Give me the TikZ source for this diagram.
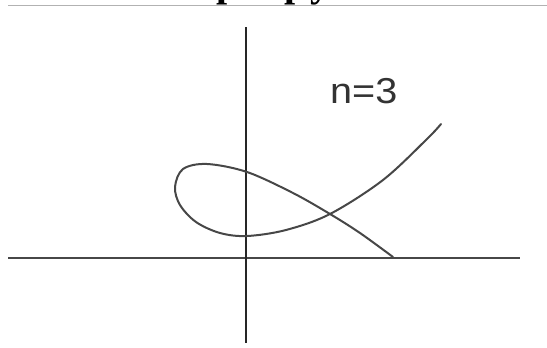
\documentclass[tikz,border=0pt]{standalone}
\usepackage{fontspec}
\setmainfont{Liberation Serif}
\newfontfamily\labfont{Liberation Sans}
\begin{document}
\begin{tikzpicture}[x=1pt,y=-1pt,
  axis/.style={line width=2pt,draw=black!85},
  haxis/.style={line width=2.6pt,draw=black!72},
  curve/.style={line width=2pt,draw=black!72,line cap=round,line join=round}]
\useasboundingbox (0,0) rectangle (547,348);
% cut-off title at the top
\begin{scope}
\clip (0,0) rectangle (547,5);
\node[anchor=base,inner sep=0pt,font=\bfseries\fontsize{40}{44}\selectfont] (p1) at (228,-4) {p};
\node[anchor=base,inner sep=0pt,font=\bfseries\fontsize{40}{44}\selectfont] (p2) at (296,-4) {p};
\node[anchor=base,inner sep=0pt,font=\bfseries\fontsize{40}{44}\selectfont] (y1) at (320,-4) {y};
\end{scope}
\draw[black!30,line width=0.8pt] (8,5) -- (547,5);
% axes
\draw[haxis] (8,258) -- (520,258);
\draw[axis] (246,27) -- (246,343);
% curve
\draw[curve] plot[smooth,tension=0.55] coordinates {
 (393,257) (360,233) (330,214) (293,193) (247,172) (207,164)
 (183,169) (175,187) (180,205) (196,222) (220,233) (247,236) (286,230)
 (330,214) (383,180) (427,139) (441,124)};
% label
\node[font=\labfont\fontsize{36}{40}\selectfont,inner sep=0pt,anchor=base west,xscale=1.1,text=black!80] (lab) at (330,103) {n=3};
\end{tikzpicture}
\end{document}
